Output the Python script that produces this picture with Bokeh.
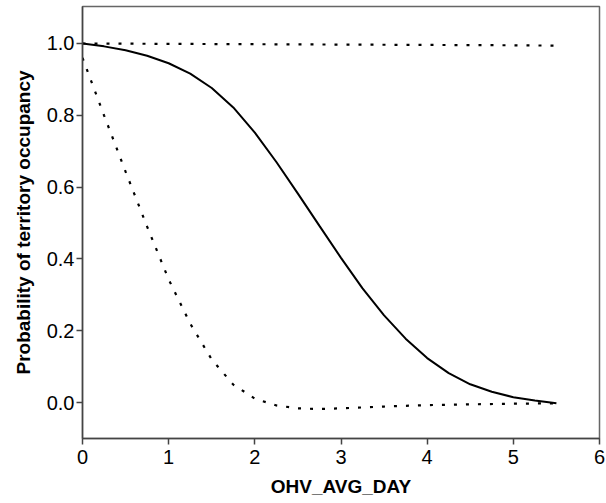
from bokeh.plotting import figure
from bokeh.embed import file_html
from bokeh.resources import INLINE
from bokeh.models import Range1d, FixedTicker, CustomJSTickFormatter

# --- data ---
x_fit = [0, 0.25, 0.5, 0.75, 1.0, 1.25, 1.5, 1.75, 2.0, 2.25, 2.5, 2.75, 3.0,
         3.25, 3.5, 3.75, 4.0, 4.25, 4.5, 4.75, 5.0, 5.25, 5.5]
y_fit = [1.0, 0.992, 0.981, 0.966, 0.945, 0.916, 0.876, 0.822, 0.752, 0.670,
         0.582, 0.492, 0.403, 0.318, 0.243, 0.178, 0.124, 0.082, 0.051, 0.030,
         0.015, 0.006, -0.002]

x_low = [0, 0.25, 0.5, 0.75, 1.0, 1.25, 1.5, 1.75, 2.0, 2.25, 2.5, 2.75, 3.0,
         3.5, 4.0, 4.5, 5.0, 5.5]
y_low = [0.96, 0.80, 0.643, 0.490, 0.343, 0.220, 0.120, 0.050, 0.011, -0.008,
         -0.016, -0.018, -0.016, -0.011, -0.007, -0.005, -0.003, -0.002]

x_up = [0, 1, 2, 3, 4, 5, 5.5]
y_up = [1.0, 0.999, 0.998, 0.997, 0.996, 0.995, 0.994]

x_ticks = [0, 1, 2, 3, 4, 5, 6]
y_ticks = [0.0, 0.2, 0.4, 0.6, 0.8, 1.0]

FONT = "Liberation Sans"

p = figure(width=606, height=503, output_backend="svg", toolbar_location=None,
           x_range=Range1d(0, 6), y_range=Range1d(-0.1, 1.103),
           min_border_left=82, min_border_right=7, min_border_top=6,
           min_border_bottom=65)

p.line(x_fit, y_fit, line_color="black", line_width=2)
p.line(x_low, y_low, line_color="black", line_width=2.2, line_dash="3 9")
p.line(x_up, y_up, line_color="black", line_width=2.2, line_dash="3 9")

p.grid.visible = False
p.outline_line_color = "#666666"
p.outline_line_width = 1.5

p.xaxis.ticker = FixedTicker(ticks=x_ticks)
p.yaxis.ticker = FixedTicker(ticks=y_ticks)
p.yaxis.formatter = CustomJSTickFormatter(code="return tick.toFixed(1);")

for ax in (p.xaxis, p.yaxis):
    ax.axis_line_color = "#444444"
    ax.axis_line_width = 1.5
    ax.major_tick_line_color = "#444444"
    ax.major_tick_line_width = 1.5
    ax.major_tick_in = 0
    ax.major_tick_out = 6
    ax.minor_tick_line_color = None
    ax.major_label_text_font = FONT
    ax.major_label_text_font_size = "20px"
    ax.major_label_text_color = "black"
    ax.axis_label_text_font = FONT
    ax.axis_label_text_font_size = "19px"
    ax.axis_label_text_font_style = "bold"
    ax.axis_label_text_color = "black"

p.xaxis.axis_label = "OHV_AVG_DAY"
p.yaxis.axis_label = "Probability of territory occupancy"
p.xaxis.major_label_standoff = 5
p.yaxis.major_label_standoff = 2
p.xaxis.axis_label_standoff = 9
p.yaxis.axis_label_standoff = 10

open("out.html", "w").write(file_html(p, INLINE))
